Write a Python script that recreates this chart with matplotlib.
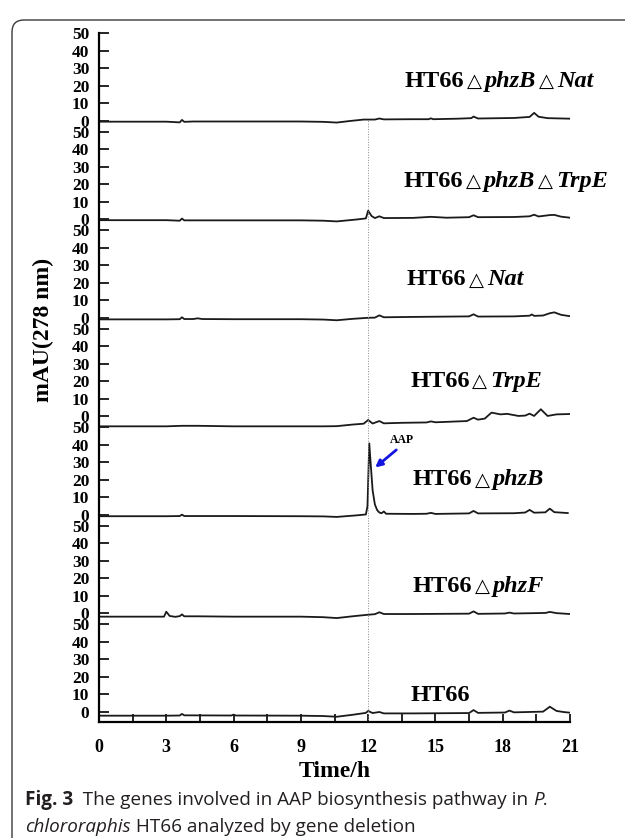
import numpy as np
import matplotlib.pyplot as plt
from matplotlib.patches import FancyBboxPatch
from matplotlib.transforms import IdentityTransform
from matplotlib.offsetbox import TextArea, HPacker, AnnotationBbox

plt.rcParams['font.family'] = ['Liberation Serif', 'DejaVu Serif']
plt.rcParams['font.weight'] = 'bold'

# chromatograms (time in h, signal in mAU), bottom to top
t_ht66 = [0, 3.0, 3.6, 3.7, 3.8, 5.9, 6.0, 6.1, 9.0, 10.0, 10.6, 11.3, 11.9, 12.0, 12.2, 12.5, 12.7, 14.0,
          16.5, 16.7, 16.9, 18.1, 18.3, 18.5, 19.8, 20.1, 20.4, 20.7, 21.0]
v_ht66 = [-2.1, -2.1, -2.0, -1.1, -1.9, -2.0, -1.5, -2.0, -2.1, -2.3, -2.7, -1.6, -0.5, 0.6, -0.6, 0.0, -0.8, -0.8,
          -0.6, 1.1, -0.5, -0.3, 0.8, -0.2, 0.2, 3.0, 0.6, 0.0, -0.4]

t_phzf = [0, 2.9, 3.0, 3.15, 3.4, 3.6, 3.7, 3.8, 4.4, 6, 9, 10.0, 10.6, 11.3, 12.0, 12.3, 12.5, 12.7, 14.0,
          16.5, 16.7, 16.9, 18.1, 18.3, 18.5, 19.9, 20.1, 20.4, 21.0]
v_phzf = [-1.8, -1.8, 1.0, -1.4, -1.9, -1.5, -0.5, -1.6, -1.6, -1.8, -1.8, -2.1, -2.6, -1.6, -0.7, -0.4, 0.7, -0.3, -0.3,
          -0.1, 1.2, -0.2, 0.0, 0.5, 0.0, 0.3, 0.9, 0.2, -0.3]

t_phzb = [0, 3.0, 3.6, 3.7, 3.8, 6, 9, 10.0, 10.6, 11.5, 11.9, 11.97, 12.05, 12.12, 12.2, 12.3, 12.4, 12.5, 12.6,
          12.7, 12.8, 14.0, 14.6, 14.8, 15.0, 16.5, 16.7, 16.9, 18.5, 19.0, 19.2, 19.4, 19.9, 20.1, 20.3, 20.9]
v_phzb = [-0.7, -0.7, -0.6, 0.2, -0.6, -0.6, -0.7, -0.8, -1.1, -0.2, 0.3, 5.0, 40.7, 28.0, 14.0, 6.0, 2.8, 1.4, 1.0,
          2.0, 0.7, 0.6, 0.7, 1.2, 0.6, 0.9, 2.3, 0.9, 1.0, 1.4, 2.9, 1.3, 1.5, 3.6, 1.6, 1.1]

t_trpe = [0, 3.0, 3.7, 4.4, 6, 9, 10.0, 10.6, 11.3, 11.8, 12.0, 12.2, 12.5, 12.7, 13.5, 14.6, 14.8, 15.0, 16.4,
          16.7, 16.9, 17.2, 17.5, 17.9, 18.2, 18.7, 19.0, 19.2, 19.4, 19.7, 20.0, 20.4, 21.0]
v_trpe = [-5.6, -5.6, -5.3, -5.3, -5.6, -5.6, -5.6, -5.5, -4.6, -4.1, -2.0, -4.0, -2.6, -3.9, -3.6, -3.4, -2.8, -3.3, -2.6,
          -0.7, -1.8, -1.2, 2.2, 1.2, 1.5, 0.3, 0.5, 1.6, 0.3, 4.1, 0.3, 1.2, 1.4]

t_nat = [0, 3.0, 3.6, 3.7, 3.8, 4.2, 4.4, 4.6, 6, 9, 10.0, 10.6, 11.3, 12.0, 12.3, 12.5, 12.7, 14.0, 16.5, 16.7,
         16.9, 18.5, 19.2, 19.3, 19.4, 19.8, 20.1, 20.3, 20.6, 21.0]
v_nat = [-0.8, -0.8, -0.7, 0.4, -0.6, -0.6, -0.2, -0.6, -0.7, -0.7, -0.9, -1.3, -0.5, 0.1, 0.2, 1.5, 0.4, 0.6, 0.9, 2.1,
         0.8, 0.9, 1.3, 2.0, 1.2, 1.4, 2.7, 3.2, 1.8, 1.0]

t_phzb_trpe = [0, 3.0, 3.6, 3.7, 3.8, 6, 9, 10.0, 10.6, 11.5, 11.9, 12.0, 12.15, 12.3, 12.5, 12.7, 14.0, 14.8, 15.5,
               16.5, 16.7, 16.9, 18.5, 19.2, 19.4, 19.6, 20.1, 20.3, 20.6, 21.0]
v_phzb_trpe = [-0.4, -0.4, -0.7, 0.5, -0.5, -0.5, -0.5, -0.7, -1.1, 0.0, 0.6, 5.0, 2.0, 0.8, 1.8, 0.8, 0.9, 1.5, 1.0,
               1.3, 2.4, 1.3, 1.4, 1.8, 2.7, 1.7, 2.5, 2.6, 1.6, 1.0]

t_phzb_nat = [0, 3.0, 3.6, 3.7, 3.8, 4.2, 6, 9, 10.0, 10.6, 11.2, 11.8, 12.3, 12.5, 12.7, 14.0, 14.7, 14.8, 14.9,
              16.0, 16.6, 16.7, 16.9, 18.5, 19.2, 19.4, 19.6, 20.0, 21.0]
v_phzb_nat = [-0.4, -0.4, -0.8, 0.6, -0.5, -0.3, -0.3, -0.3, -0.5, -0.9, 0.0, 0.8, 0.8, 1.4, 0.9, 1.0, 1.0, 1.5, 1.0,
              1.3, 1.6, 2.5, 1.4, 1.7, 2.3, 4.6, 2.4, 1.6, 1.3]

times = [t_ht66, t_phzf, t_phzb, t_trpe, t_nat, t_phzb_trpe, t_phzb_nat]
signals = [v_ht66, v_phzf, v_phzb, v_trpe, v_nat, v_phzb_trpe, v_phzb_nat]
# deleted genes of each strain (italic in the label)
deleted = [[], ['phzF'], ['phzB'], ['TrpE'], ['Nat'], ['phzB', 'TrpE'], ['phzB', 'Nat']]
# label left edge (h) and height above its own trace zero (mAU)
name_x = [13.9, 14.0, 14.0, 13.87, 13.73, 13.6, 13.64]
name_y = [9.4, 15.3, 19.9, 19.9, 21.6, 21.6, 22.7]

step = 56.0          # vertical offset between stacked traces
yvals = [0, 10, 20, 30, 40, 50]
xticks = [0, 3, 6, 9, 12, 15, 18, 21]

fig = plt.figure(figsize=(6.25, 8.38), dpi=100)
ax = fig.add_axes([0.1584, 0.1384, 0.7536, 0.8222])

bold = dict(family='Liberation Serif', weight='bold', size=17.5, color='black')
ital = dict(family='Liberation Serif', weight='bold', style='italic', size=17.5, color='black')
trip = dict(family='DejaVu Sans', weight='normal', size=14, color='black')

for i in range(len(times)):
    off = i * step
    ax.plot(times[i], np.array(signals[i]) + off, color='#1a1a1a', lw=1.3)
    parts = [TextArea('HT66', textprops=bold)]
    for g in deleted[i]:
        parts.append(TextArea('\u25b3', textprops=trip))
        parts.append(TextArea(g, textprops=ital))
    box = HPacker(children=parts, align='baseline', pad=0, sep=2)
    ax.add_artist(AnnotationBbox(box, (name_x[i], name_y[i] + off), frameon=False,
                                 box_alignment=(0.0, 0.5), pad=0, annotation_clip=False))

# dotted marker at 12 h
ax.plot([12, 12], [-5.7, 6 * step + 0.5], color='#888888', lw=0.7, ls=':')

# AAP arrow on the phzB trace
ax.annotate('', xy=(12.22, 2 * step + 26.0), xytext=(13.35, 2 * step + 38.0),
            arrowprops=dict(arrowstyle='-|>', color='#1515e0', lw=2.0, mutation_scale=10))
ax.text(13.5, 2 * step + 42.5, 'AAP', fontsize=8.5, ha='center', va='center')

ax.set_xlim(0, 21)
ax.set_ylim(-5.7, 6 * step + 50)
ax.set_xticks(xticks)
ax.set_xticks(np.arange(1.5, 21, 3), minor=True)
ax.set_xticklabels([str(v) for v in xticks], fontsize=13)
ax.set_yticks([i * step + v for i in range(7) for v in yvals])
ax.set_yticklabels([str(v) for i in range(7) for v in yvals], fontsize=12.5)
ax.tick_params(axis='y', direction='in', length=7, width=1.2, pad=7)
ax.tick_params(axis='x', which='both', direction='in', length=6, width=1.2, pad=12)
for s in ['top', 'right']:
    ax.spines[s].set_visible(False)
for s in ['left', 'bottom']:
    ax.spines[s].set_linewidth(1.6)
ax.set_xlabel('Time/h', fontsize=17, fontweight='bold', labelpad=4)
fig.text(43 / 625, 1 - 330 / 838, 'mAU(278 nm)', rotation=90, fontsize=17,
         fontweight='bold', ha='center', va='center')

# rounded frame of the figure panel, in pixels
frame = FancyBboxPatch((12, -40), 1000, 868 - 10, boxstyle='round,pad=0,rounding_size=12',
                       transform=IdentityTransform(), fill=False, ec='#3a3a3a', lw=1.0)
fig.patches.append(frame)

# caption, written piece by piece to mix bold / italic
renderer = fig.canvas.get_renderer()
cap = [
    [('Fig. 3', 'bold', 'normal'), ('  The genes involved in AAP biosynthesis pathway in ', 'normal', 'normal'),
     ('P.', 'normal', 'italic')],
    [('chlororaphis', 'normal', 'italic'), (' HT66 analyzed by gene deletion', 'normal', 'normal')],
]
line_y = [838 - 800, 838 - 827]
for line, yy in zip(cap, line_y):
    x = 25
    for txt, w, st in line:
        t = fig.text(x / 625, yy / 838, txt, fontsize=13.6, family='Open Sans', weight=w,
                     style=st, color='#231f20', va='center', ha='left')
        x = t.get_window_extent(renderer=renderer).x1

fig.savefig('out.png', dpi=100)
